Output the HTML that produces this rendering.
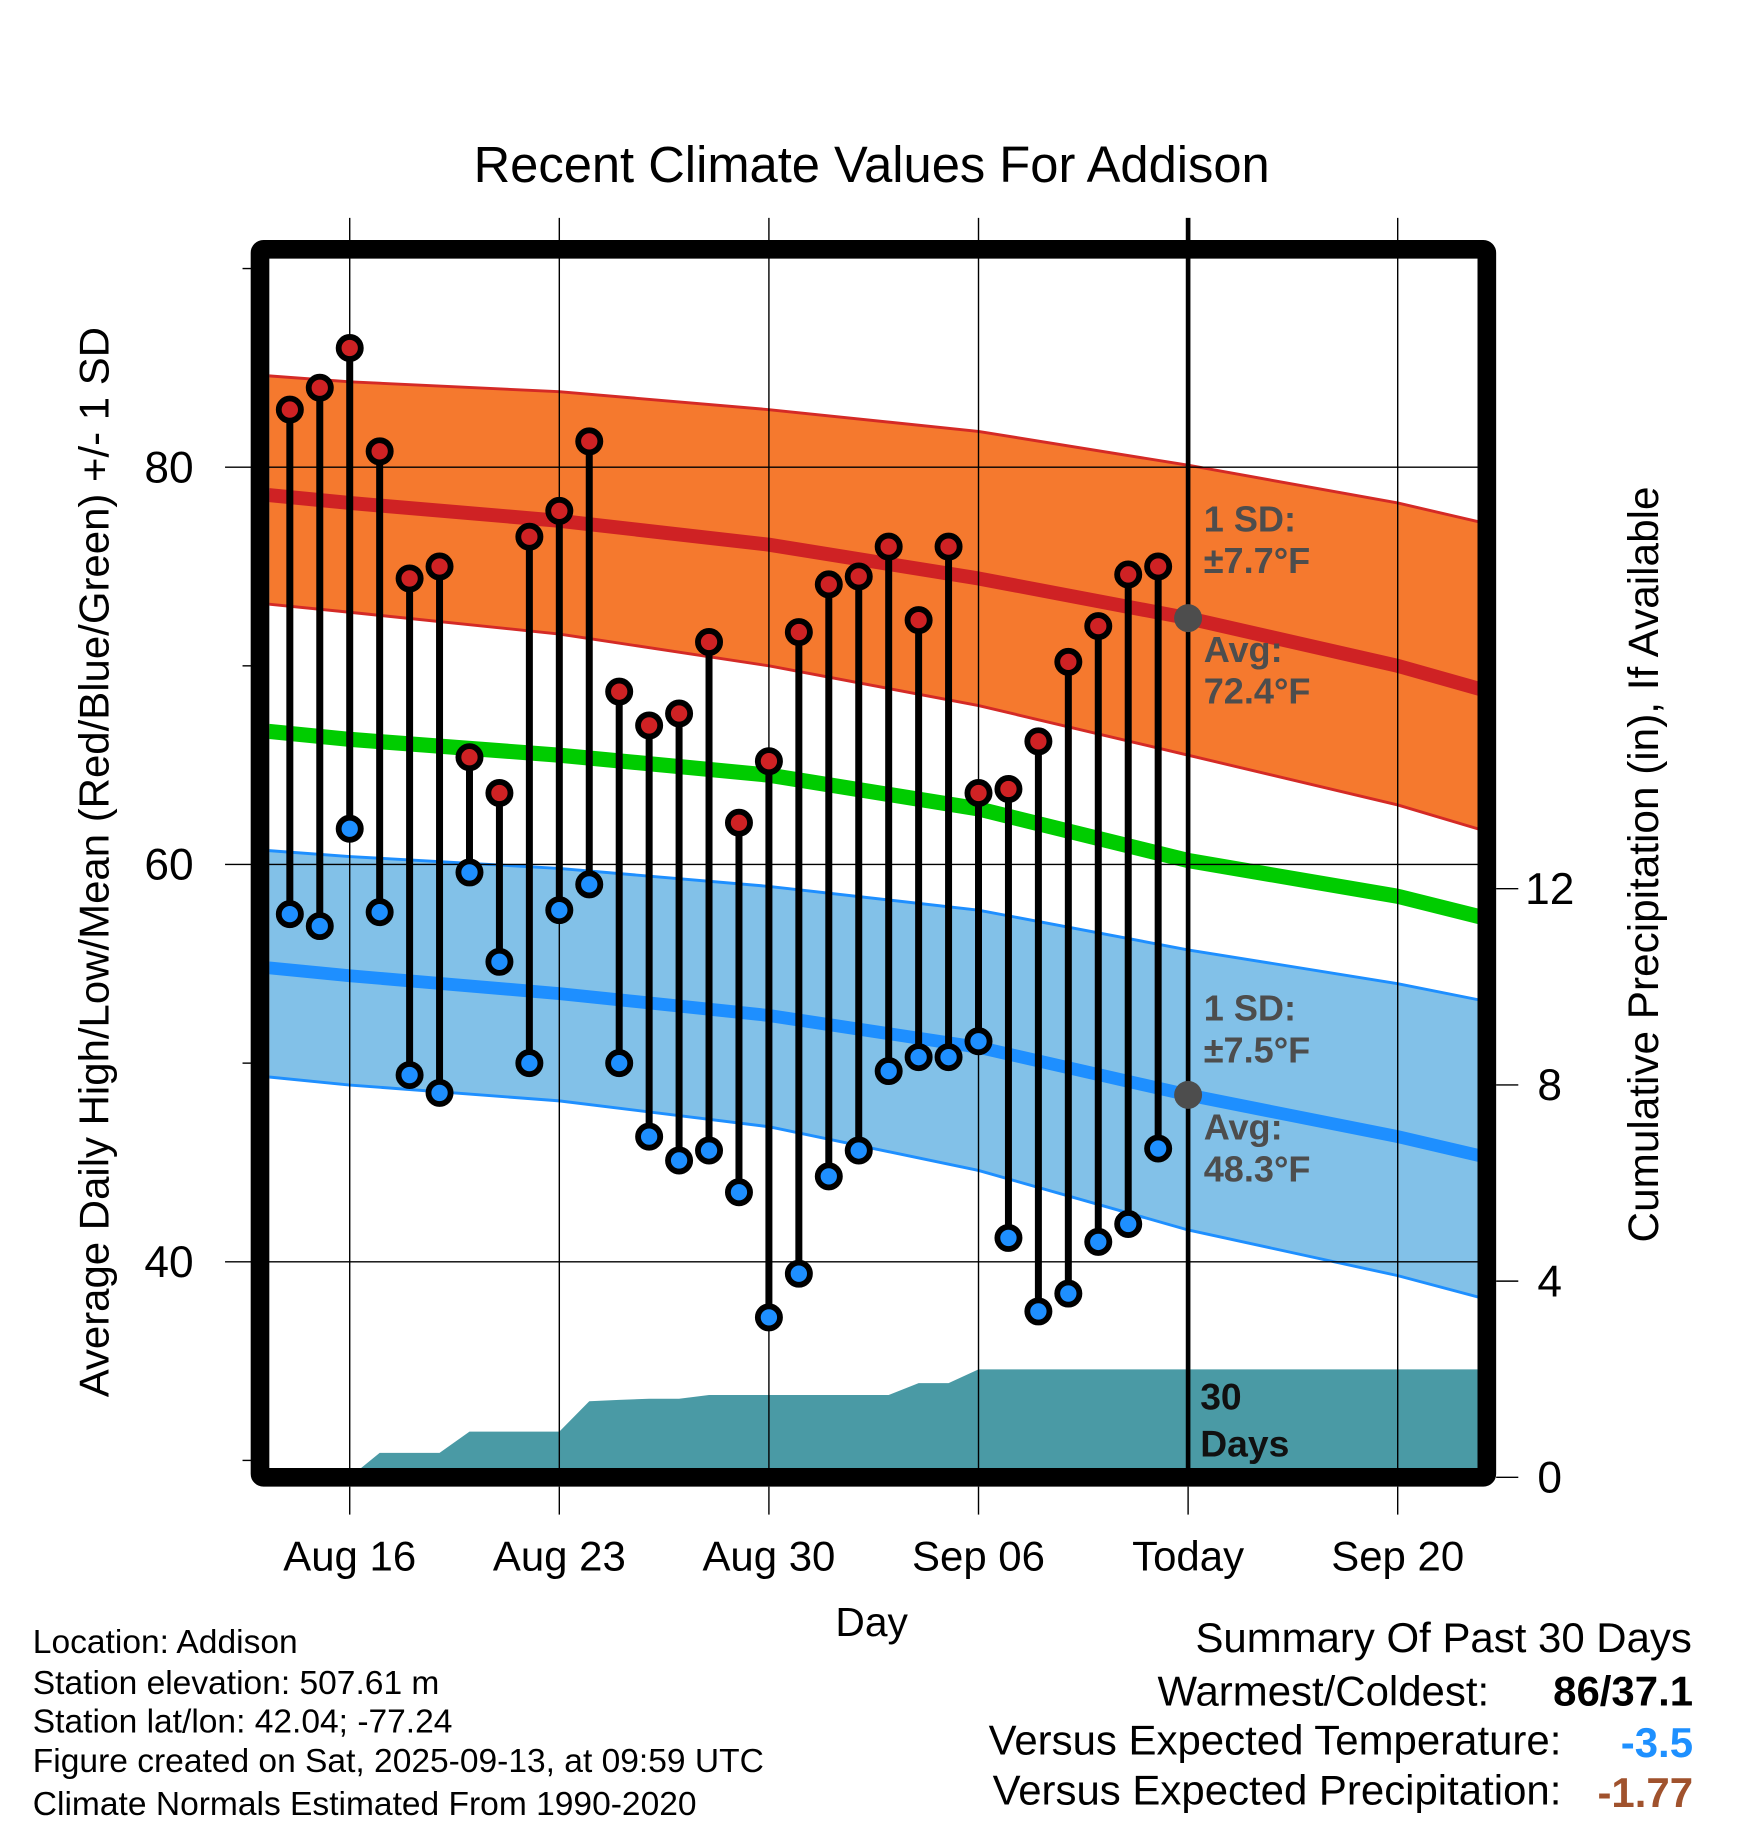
<!DOCTYPE html>
<html><head><meta charset="utf-8"><style>
html,body{margin:0;padding:0;background:#fff;}
svg{display:block;font-family:"Liberation Sans",Arial,sans-serif;}
</style></head><body>
<svg id="chart" width="1748" height="1828" viewBox="0 0 1500 1569" xmlns="http://www.w3.org/2000/svg">
<text x="748" y="156" font-size="43.5" text-anchor="middle">Recent Climate Values For Addison</text>
<g id="plot"></g>
<g id="axes"></g>
<text x="748" y="1404" font-size="35" text-anchor="middle">Day</text>
<text transform="translate(93,740) rotate(-90)" font-size="36" text-anchor="middle">Average Daily High/Low/Mean (Red/Blue/Green) +/- 1 SD</text>
<text transform="translate(1423,742) rotate(-90)" font-size="36.3" text-anchor="middle">Cumulative Precipitation (in), If Available</text>
<g font-size="28.8">
<text x="28" y="1419">Location: Addison</text>
<text x="28" y="1454">Station elevation: 507.61 m</text>
<text x="28" y="1487">Station lat/lon: 42.04; -77.24</text>
<text x="28" y="1521">Figure created on Sat, 2025-09-13, at 09:59 UTC</text>
<text x="28" y="1558">Climate Normals Estimated From 1990-2020</text>
</g>
<g font-size="36" text-anchor="end">
<text x="1452" y="1418">Summary Of Past 30 Days</text>
<text x="1278" y="1464">Warmest/Coldest:</text>
<text x="1453" y="1464" font-weight="bold">86/37.1</text>
<text x="1340" y="1506">Versus Expected Temperature:</text>
<text x="1453" y="1508" font-weight="bold" fill="#1e90ff">-3.5</text>
<text x="1340" y="1549">Versus Expected Precipitation:</text>
<text x="1453" y="1551" font-weight="bold" fill="#a0522d">-1.77</text>
</g>
</svg>
<script>
const days=[-2.7,0,7,14,21,28,35,39];
const normHigh=[78.6,78.2,77.3,76.1,74.4,72.4,70.0,68.3];
const highUpper=[84.6,84.3,83.8,82.9,81.8,80.1,78.2,76.8];
const highLower=[73.1,72.7,71.6,70.0,68.0,65.5,63.0,61.2];
const normMean=[66.7,66.3,65.5,64.5,62.8,60.2,58.4,56.9];
const normLow=[54.8,54.4,53.5,52.4,50.8,48.4,46.3,44.9];
const lowUpper=[60.7,60.4,59.8,58.9,57.7,55.7,54.0,52.8];
const lowLower=[49.3,48.9,48.1,46.8,44.6,41.6,39.3,37.7];
const highs=[82.9,84.0,86.0,80.8,74.4,75.0,65.4,63.6,76.5,77.8,81.3,68.7,67.0,67.6,71.2,62.1,65.2,71.7,74.1,74.5,76.0,72.3,76.0,63.6,63.8,66.2,70.2,72.0,74.6,75.0];
const lows=[57.5,56.9,61.8,57.6,49.4,48.5,59.6,55.1,50.0,57.7,59.0,50.0,46.3,45.1,45.6,43.5,37.2,39.4,44.3,45.6,49.6,50.3,50.3,51.1,41.2,37.5,38.4,41.0,41.9,45.7];
const precipDays=[-2,-1,0,1,2,3,4,5,6,7,8,9,10,11,12,13,14,15,16,17,18,19,20,21,22,23,24,25,26,27,28,29,30,31,32,33,34,35,36,37,38];
const precip=[0,0,0,0.5,0.5,0.5,0.93,0.93,0.93,0.93,1.55,1.58,1.6,1.6,1.68,1.68,1.68,1.68,1.68,1.68,1.68,1.92,1.92,2.2,2.2,2.2,2.2,2.2,2.2,2.2,2.2,2.2,2.2,2.2,2.2,2.2,2.2,2.2,2.2,2.2,2.2];
const xTickDays=[0,7,14,21,28,35];
const xTickLabels=["Aug 16","Aug 23","Aug 30","Sep 06","Today","Sep 20"];
const yTicks=[40,60,80];
const yMinor=[30,50,70,90];
const y2Ticks=[0,4,8,12];
const firstDay=-2;
const L=231,R=1268,T=223,B=1260;
const X=d=>300+d*25.7;
const Y=t=>401+(80-t)*17.05;
const Y2=p=>1268-p*42.1;
const NS="http://www.w3.org/2000/svg";
const plot=document.getElementById('plot'),axes=document.getElementById('axes');
function mk(tag,attrs,parent){const e=document.createElementNS(NS,tag);for(const k in attrs)e.setAttribute(k,attrs[k]);parent.appendChild(e);return e;}
const clip=mk('clipPath',{id:'pc'},plot);mk('rect',{x:L,y:T,width:R-L,height:B-T},clip);
const g=mk('g',{'clip-path':'url(#pc)'},plot);
const pts=arr=>arr.map((v,i)=>X(days[i]).toFixed(1)+','+Y(v).toFixed(1));
function band(up,lo,fill,edge,name){
  const p=mk('polygon',{points:pts(up).concat(pts(lo).reverse()).join(' '),fill:fill},g);
  
  
  for(const a of [up,lo]){const l=mk('polyline',{points:pts(a).join(' '),fill:'none',stroke:edge,'stroke-width':2.5},g);
  
  }
}
function line(a,c,w,name){const l=mk('polyline',{points:pts(a).join(' '),fill:'none',stroke:c,'stroke-width':w,'stroke-linejoin':'round'},g);
  
  }
const pp=precip.map((v,i)=>X(precipDays[i]).toFixed(1)+','+Y2(v).toFixed(1));
const pa=mk('polygon',{points:[X(precipDays[0])+','+Y2(0)].concat(pp).concat([X(precipDays[precipDays.length-1])+','+Y2(0)]).join(' '),fill:'#4a9aa5'},g);


band(highUpper,highLower,'#f5792e','#d42a26','high-sd-band');
band(lowUpper,lowLower,'#82c1e8','#1e8fff','low-sd-band');
line(normHigh,'#cf2224',12,'normal-high-line');
line(normLow,'#1e8fff',11,'normal-low-line');
line(normMean,'#00cc00',13,'normal-mean-line');
for(const d of xTickDays){const l=mk('line',{x1:X(d),x2:X(d),y1:187,y2:B,stroke:'#000','stroke-width':d===28?4:1.2},plot);
  
  }
for(const t of yTicks){const l=mk('line',{x1:193,x2:R,y1:Y(t),y2:Y(t),stroke:'#000','stroke-width':1.2},plot);
  
  }
highs.forEach((h,i)=>{const x=X(firstDay+i);
  const s=mk('line',{x1:x,x2:x,y1:Y(h),y2:Y(lows[i]),stroke:'#000','stroke-width':6},plot);
  
  
  const c1=mk('circle',{cx:x,cy:Y(h),r:9.5,fill:'#cf2224',stroke:'#000','stroke-width':5},plot);
  
  
  const c2=mk('circle',{cx:x,cy:Y(lows[i]),r:9.5,fill:'#1e8fff',stroke:'#000','stroke-width':5},plot);
  
  
});
for(const v of [normHigh[5],normLow[5]]){const c=mk('circle',{cx:X(28),cy:Y(v),r:12,fill:'#4d4d4d'},plot);
  
  }
const ann=[["1 SD:",446],["\u00b17.7\u00b0F",482],["Avg:",558],["72.4\u00b0F",594],["1 SD:",866],["\u00b17.5\u00b0F",902],["Avg:",968],["48.3\u00b0F",1004]];
for(const [t,y] of ann){const e=mk('text',{x:1033,y:y+10,'font-size':31,'font-weight':'bold',fill:'#4d4d4d'},plot);e.textContent=t;
  
  }
for(const [t,y] of [["30",1210],["Days",1250]]){const e=mk('text',{x:1030,y:y,'font-size':32,'font-weight':'bold',fill:'#111'},plot);e.textContent=t;
  
  }
const fr=mk('rect',{x:223,y:214,width:1053,height:1054,fill:'none',stroke:'#000','stroke-width':16,rx:3},axes);


for(const t of yTicks){const e=mk('text',{x:166,y:Y(t)+13,'font-size':38,'text-anchor':'end'},axes);e.textContent=t;
  
  }
for(const t of yMinor){const l=mk('line',{x1:208,x2:216,y1:Y(t),y2:Y(t),stroke:'#000','stroke-width':1.2},axes);
  
  }
for(const t of y2Ticks){const l=mk('line',{x1:1284,x2:1303,y1:Y2(t),y2:Y2(t),stroke:'#000','stroke-width':1.2},axes);
  
  
  const e=mk('text',{x:1330,y:Y2(t)+13,'font-size':38,'text-anchor':'middle'},axes);e.textContent=t;
  
  }
xTickDays.forEach((d,i)=>{const l=mk('line',{x1:X(d),x2:X(d),y1:1276,y2:1300,stroke:'#000','stroke-width':1.2},axes);
  
  
  const e=mk('text',{x:X(d),y:1348,'font-size':36,'text-anchor':'middle'},axes);e.textContent=xTickLabels[i];
  
  });
</script>
</body></html>
